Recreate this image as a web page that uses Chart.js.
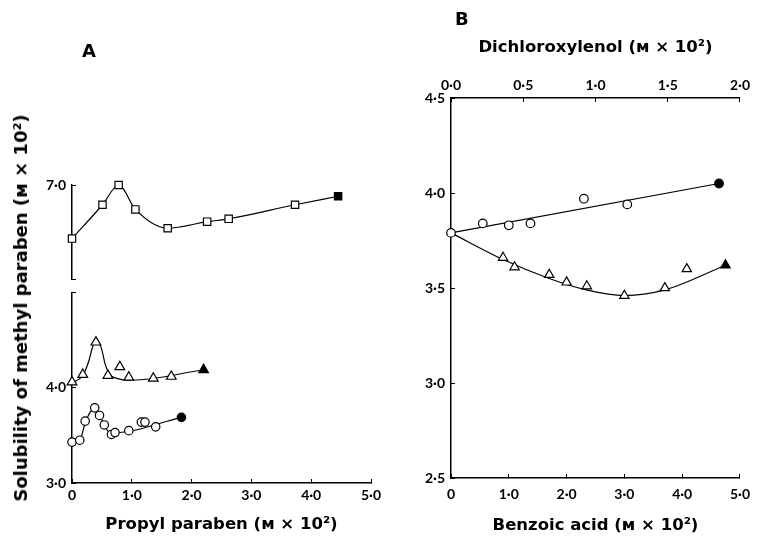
<!DOCTYPE html>
<html><head><meta charset="utf-8">
<script src="https://cdn.jsdelivr.net/npm/chart.js@4"></script>
<style>
html,body{margin:0;padding:0;background:#fff;}
#wrap{position:relative;width:762px;height:538px;overflow:hidden;background:#fff;}
#ca{position:absolute;left:0;top:0;}
#cb{position:absolute;left:420px;top:0;}
.lbl{position:absolute;font-family:"DejaVu Sans";font-weight:bold;color:#000;line-height:1;}
#ytitle{position:absolute;left:21px;top:308px;transform:translate(-50%,-50%) rotate(-90deg);white-space:nowrap;font-size:18px;}
</style></head>
<body><div id="wrap">
<canvas id="ca" width="420" height="538"></canvas>
<canvas id="cb" width="342" height="538"></canvas>
<div class="lbl" style="left:82px;top:42px;font-size:18px;">A</div>
<div class="lbl" style="left:455px;top:10px;font-size:18px;">B</div>
<div class="lbl" id="ytitle">Solubility of methyl paraben (ᴍ × 10²)</div>
</div>
<script>
// ---------- Panel A data (propyl paraben, M x 10^2) ----------
const squaresX = [0, 0.51, 0.78, 1.06, 1.6, 2.26, 2.62, 3.73, 4.45];
const squaresY = [6.43, 6.79, 7.0, 6.74, 6.54, 6.61, 6.64, 6.79, 6.88];

const trianglesAX = [0, 0.18, 0.4, 0.6, 0.8, 0.95, 1.36, 1.66, 2.2];
const trianglesAY = [4.06, 4.14, 4.48, 4.13, 4.22, 4.11, 4.10, 4.12, 4.19];
const triCurveAX = [0, 0.18, 0.28, 0.35, 0.42, 0.49, 0.55, 0.62, 0.75, 1.0, 2.2];
const triCurveAY = [4.05, 4.13, 4.28, 4.44, 4.48, 4.42, 4.26, 4.15, 4.10, 4.08, 4.19];

const circlesAX = [0, 0.13, 0.22, 0.38, 0.46, 0.54, 0.66, 0.72, 0.95, 1.16, 1.22, 1.4, 1.83];
const circlesAY = [3.43, 3.45, 3.65, 3.79, 3.71, 3.61, 3.51, 3.53, 3.55, 3.64, 3.64, 3.59, 3.69];
const circCurveAX = [0, 0.13, 0.22, 0.3, 0.38, 0.46, 0.54, 0.63, 0.72, 1.83];
const circCurveAY = [3.43, 3.45, 3.63, 3.74, 3.79, 3.72, 3.61, 3.53, 3.53, 3.69];

// ---------- Panel B data ----------
const dichloroX = [0, 0.22, 0.40, 0.55, 0.92, 1.22, 1.855];
const dichloroY = [3.79, 3.84, 3.83, 3.84, 3.97, 3.94, 4.05];
const dichloroLineX = [0, 1.855];
const dichloroLineY = [3.79, 4.05];

const benzoicX = [0.9, 1.1, 1.7, 2.0, 2.35, 3.0, 3.7, 4.08, 4.75];
const benzoicY = [3.66, 3.61, 3.57, 3.53, 3.51, 3.46, 3.50, 3.60, 3.62];
const benzoicCurveX = [0, 0.9, 1.7, 2.34, 3.0, 3.7, 4.75];
const benzoicCurveY = [3.79, 3.65, 3.55, 3.49, 3.46, 3.49, 3.62];

// ---------- Tick values / labels ----------
const xTicksA = [0, 1, 2, 3, 4, 5];
const yTicksAUpper = [7];
const yTicksALower = [3, 4];
const xTicksBBottom = [0, 1, 2, 3, 4, 5];
const xTicksBTop = [0, 0.5, 1, 1.5, 2];
const yTicksB = [2.5, 3, 3.5, 4, 4.5];

const xTitleA = 'Propyl paraben (ᴍ × 10²)';
const xTitleBBottom = 'Benzoic acid (ᴍ × 10²)';
const xTitleBTop = 'Dichloroxylenol (ᴍ × 10²)';

// ---------- helpers ----------
const tickFont = {family: 'Lato', weight: 'bold', size: 14};
const titleFont = {family: 'DejaVu Sans', weight: 'bold', size: 16.5};
const dot = v => v.toFixed(1).replace('.', '\u00B7');
const fmt = v => (v === 0 ? '0' : dot(v));
const pts = (xs, ys) => xs.map((x, i) => ({x: x, y: ys[i]}));
const lastFilled = n => Array.from({length: n}, (_, i) => (i === n - 1 ? '#000' : '#fff'));

function markers(xs, ys, style, r, xId, yId, fillLast) {
  return {
    data: pts(xs, ys), showLine: false, pointStyle: style, pointRadius: r, pointHoverRadius: r,
    pointBorderColor: '#000', pointBorderWidth: 1.2,
    pointBackgroundColor: fillLast ? lastFilled(xs.length) : '#fff',
    xAxisID: xId, yAxisID: yId, clip: false, order: 0
  };
}
function curve(xs, ys, xId, yId, mono) {
  return {
    data: pts(xs, ys), showLine: true, borderColor: '#000', borderWidth: 1.2, pointRadius: 0,
    cubicInterpolationMode: mono ? 'monotone' : 'default', tension: 0, fill: false,
    xAxisID: xId, yAxisID: yId, clip: false, order: 1
  };
}
const gridOpts = {drawOnChartArea: false, drawTicks: true, tickLength: -4, color: '#000', lineWidth: 1};
const borderOpts = {display: true, color: '#000', width: 1.5};

// ---------- Panel A chart ----------
new Chart(document.getElementById('ca'), {
  type: 'scatter',
  data: {
    datasets: [
      markers(squaresX, squaresY, 'rect', 5.2, 'x', 'yU', true),
      markers(trianglesAX, trianglesAY, 'triangle', 5.6, 'x', 'yL', true),
      markers(circlesAX, circlesAY, 'circle', 4.2, 'x', 'yL', true),
      curve(squaresX, squaresY, 'x', 'yU', true),
      curve(triCurveAX, triCurveAY, 'x', 'yL', true),
      curve(circCurveAX, circCurveAY, 'x', 'yL', true)
    ]
  },
  options: {
    responsive: false, animation: false, devicePixelRatio: 1,
    layout: {padding: {top: 185, right: 49, left: 0, bottom: 0}},
    plugins: {legend: {display: false}, tooltip: {enabled: false}},
    scales: {
      x: {
        type: 'linear', position: 'bottom', min: 0, max: 5,
        afterBuildTicks: s => { s.ticks = xTicksA.map(v => ({value: v})); },
        ticks: {font: tickFont, color: '#000', padding: 8, callback: fmt, maxRotation: 0, autoSkip: false},
        grid: gridOpts, border: borderOpts,
        title: {display: true, text: xTitleA, font: titleFont, color: '#000', padding: {top: 0, bottom: 3}},
        afterFit: s => { s.height = 55; }
      },
      yU: {
        type: 'linear', position: 'left', stack: 'a', stackWeight: 94, weight: 3, min: 6, max: 7,
        afterBuildTicks: s => { s.ticks = [6, 7].map(v => ({value: v})); },
        ticks: {font: tickFont, color: '#000', padding: 10, callback: v => (yTicksAUpper.includes(v) ? dot(v) : '')},
        grid: gridOpts, border: borderOpts,
        afterFit: s => { s.width = 72; }
      },
      yG: {
        type: 'linear', position: 'left', stack: 'a', stackWeight: 13.7, weight: 2, min: 0, max: 1,
        ticks: {display: false}, grid: {display: false}, border: {display: false},
        afterFit: s => { s.width = 72; }
      },
      yL: {
        type: 'linear', position: 'left', stack: 'a', stackWeight: 190.3, weight: 1, min: 3, max: 5,
        afterBuildTicks: s => { s.ticks = [3, 4, 5].map(v => ({value: v})); },
        ticks: {font: tickFont, color: '#000', padding: 10, callback: v => (yTicksALower.includes(v) ? dot(v) : '')},
        grid: gridOpts, border: borderOpts,
        afterFit: s => { s.width = 72; }
      }
    }
  }
});

// ---------- Panel B chart ----------
new Chart(document.getElementById('cb'), {
  type: 'scatter',
  data: {
    datasets: [
      markers(dichloroX, dichloroY, 'circle', 4.3, 'x2', 'y', true),
      markers(benzoicX, benzoicY, 'triangle', 5.4, 'x', 'y', true),
      curve(dichloroLineX, dichloroLineY, 'x2', 'y', false),
      curve(benzoicCurveX, benzoicCurveY, 'x', 'y', true)
    ]
  },
  options: {
    responsive: false, animation: false, devicePixelRatio: 1,
    layout: {padding: {top: 0, right: 11, left: 0, bottom: 0}},
    plugins: {legend: {display: false}, tooltip: {enabled: false}},
    scales: {
      x: {
        type: 'linear', position: 'bottom', min: 0, max: 5,
        afterBuildTicks: s => { s.ticks = xTicksBBottom.map(v => ({value: v})); },
        ticks: {font: tickFont, color: '#000', padding: 12, callback: fmt, maxRotation: 0, autoSkip: false},
        grid: gridOpts, border: borderOpts,
        title: {display: true, text: xTitleBBottom, font: titleFont, color: '#000', padding: {top: 0, bottom: 2}},
        afterFit: s => { s.height = 60; }
      },
      x2: {
        type: 'linear', position: 'top', min: 0, max: 2,
        afterBuildTicks: s => { s.ticks = xTicksBTop.map(v => ({value: v})); },
        ticks: {font: tickFont, color: '#000', padding: 8, callback: dot, maxRotation: 0, autoSkip: false},
        grid: gridOpts, border: borderOpts,
        title: {display: true, text: xTitleBTop, font: titleFont, color: '#000', padding: {top: 38, bottom: 0}},
        afterFit: s => { s.height = 98; }
      },
      y: {
        type: 'linear', position: 'left', min: 2.5, max: 4.5,
        afterBuildTicks: s => { s.ticks = yTicksB.map(v => ({value: v})); },
        ticks: {font: tickFont, color: '#000', padding: 10, callback: dot},
        grid: gridOpts, border: borderOpts,
        afterFit: s => { s.width = 31; }
      }
    }
  }
});
</script>
</body></html>
